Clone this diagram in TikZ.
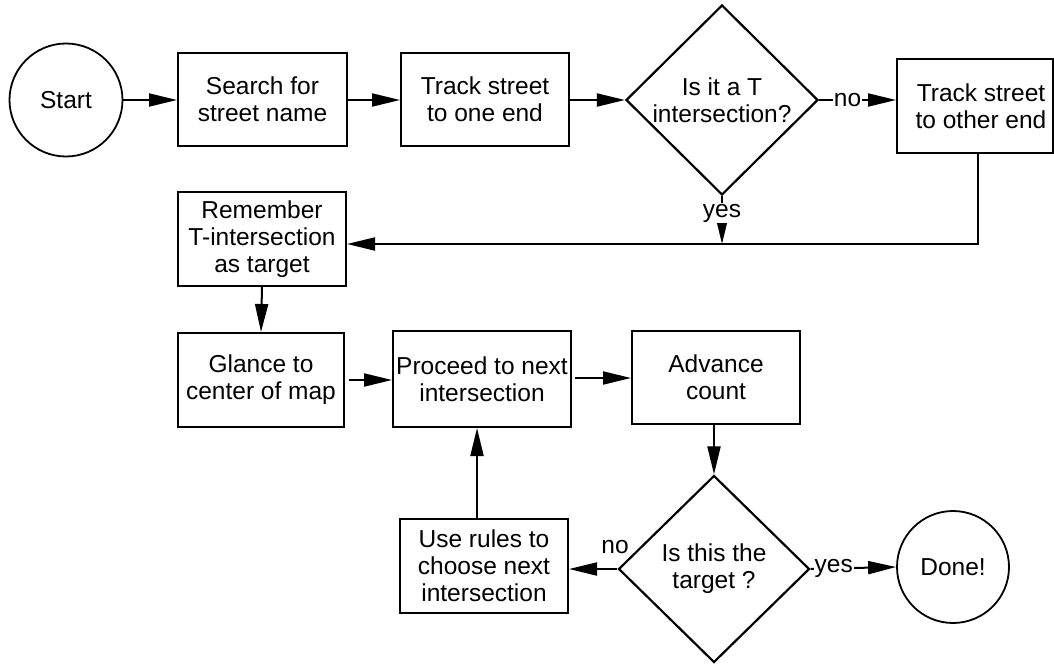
\documentclass[tikz,border=0pt]{standalone}
\usepackage{fontspec}
\setmainfont{Liberation Sans}
\usetikzlibrary{arrows.meta,shapes.geometric}
\begin{document}
\begin{tikzpicture}[x=1pt,y=-1pt,
  every node/.style={font=\fontsize{24.5}{27}\selectfont, align=center},
  box/.style={draw, line width=2pt, rectangle, inner sep=0pt, minimum width=168pt, minimum height=94pt},
  term/.style={draw, line width=1.8pt, circle, inner sep=0pt, minimum size=113pt},
  decision/.style={draw, line width=2.2pt, diamond, inner sep=0pt, minimum width=192pt, minimum height=190pt},
  flow/.style={line width=2pt, -{Triangle[length=28pt,width=13pt]}},
  lbl/.style={fill=white, inner sep=1pt}]
\useasboundingbox (0,0) rectangle (1054,664);
% nodes
\node[term] (start) at (66,100) {Start};
\node[box, minimum width=169pt, minimum height=93pt] (search) at (262.5,99.5) {Search for\\street name};
\node[box, minimum height=93pt] (track1) at (485,99.5) {Track street\\to one end};
\node[decision] (d1) at (722,100) {Is it a T\\intersection?};
\node[box, minimum width=156pt] (track2) at (975,106) {\hspace*{12pt}Track street\\\hspace*{12pt}to other end};
\node[box] (remember) at (262,239) {Remember\\T-intersection\\as target};
\node[box, minimum width=166pt] (glance) at (261,380) {Glance to\\center of map};
\node[box, minimum width=178pt, minimum height=96pt] (proceed) at (482,379) {Proceed to next\\intersection};
\node[box, minimum height=93pt] (advance) at (716,377.5) {Advance\\count};
\node[decision, minimum width=191pt, minimum height=187pt] (d2) at (714,569) {Is this the\\target ?};
\node[box] (rules) at (484,566) {Use rules to\\choose next\\intersection};
\node[term, minimum size=112pt] (done) at (953,567) {Done!};
\coordinate (j) at (978,244);
% connectors
\draw[flow] (start.east |- 0,100) -- (search.west |- 0,100);
\draw[flow] (search.east |- 0,100) -- (track1.west |- 0,100);
\draw[flow] (track1.east |- 0,100) -- (d1.west);
\draw[flow] (d1.east) -- (track2.west |- d1.east) node[lbl, pos=0.37] (no1) {no};
\draw[flow] (d1.south) -- (d1.south |- j);
\node[lbl] (yes1) at (722,213) {yes};
\draw[flow] (j |- track2.south) -- (j) -- (j -| remember.east);
\draw[flow] (remember.south) -- (glance.north);
\draw[flow, shorten <=4pt] (glance.east |- 0,380) -- (proceed.west |- 0,380);
\draw[flow, shorten <=3pt] (proceed.east |- 0,378) -- (advance.west |- 0,378);
\draw[flow] (advance.south -| d2.north) -- (d2.north);
\draw[flow] (d2.west) -- (rules.east |- d2.west);
\node (no2) at (615,547) {no};
\draw[flow] (d2.east) -- (done.west) node[lbl, pos=0.27] (yes2) {yes};
\draw[flow] ([xshift=-7pt]rules.north) -- ([xshift=-7pt]rules.north |- proceed.south);
\end{tikzpicture}
\end{document}
